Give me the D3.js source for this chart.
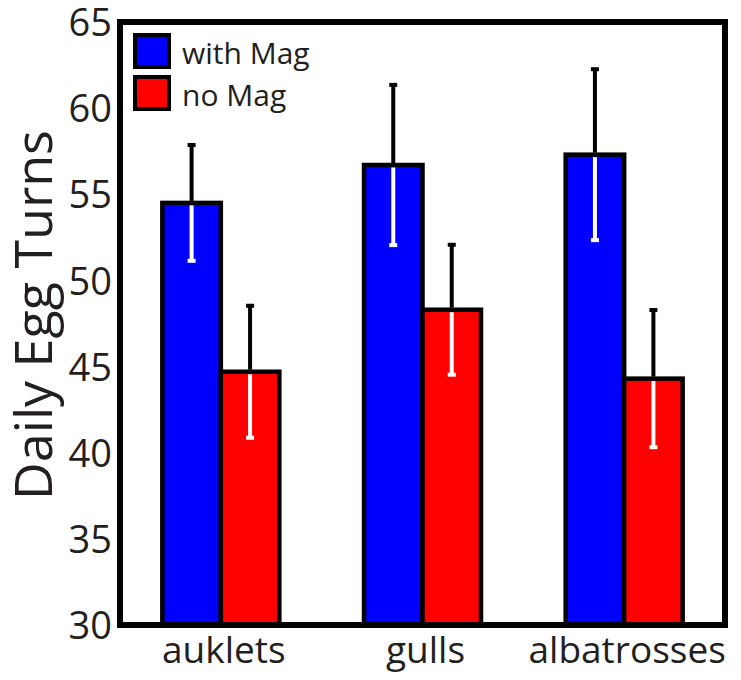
<!DOCTYPE html>
<html>
<head>
<meta charset="utf-8">
<script src="https://cdn.jsdelivr.net/npm/d3@7"></script>
<style>
  body { margin: 0; background: #fff; }
  svg text { font-family: "Open Sans", "Noto Sans", sans-serif; fill: #231f20; }
</style>
</head>
<body>
<svg id="chart"></svg>
<script>
// data
let species = ["auklets", "gulls", "albatrosses"];
let groups = ["with Mag", "no Mag"];
let withMag = [54.5, 56.7, 57.3];
let withMagSE = [3.36, 4.65, 4.96];
let noMag = [44.7, 48.3, 44.3];
let noMagSE = [3.83, 3.77, 3.98];
let yTicks = [30, 35, 40, 45, 50, 55, 60, 65];
let colors = ["#0000ff", "#ff0000"];

let width = 741;
let height = 680;
let padL = 120, padR = 725, padT = 22, padB = 625;

let svg = d3.select("#chart").attr("width", width).attr("height", height);

let rows = [];
species.forEach((s, i) => {
  rows.push({ sp: s, grp: groups[0], v: withMag[i], se: withMagSE[i] });
  rows.push({ sp: s, grp: groups[1], v: noMag[i], se: noMagSE[i] });
});

let xScale = d3.scaleBand().domain(species).range([padL, padR])
  .paddingInner(0.42).paddingOuter(0.21);
let xInner = d3.scaleBand().domain(groups).range([0, xScale.bandwidth()]);
let yScale = d3.scaleLinear().domain([30, 65]).range([padB, padT]);
let color = d3.scaleOrdinal().domain(groups).range(colors);

// bars
svg.append("g").selectAll("rect")
  .data(rows)
  .enter()
  .append("rect")
  .attr("x", d => xScale(d.sp) + xInner(d.grp))
  .attr("y", d => yScale(d.v))
  .attr("width", xInner.bandwidth())
  .attr("height", d => yScale(30) - yScale(d.v))
  .attr("fill", d => color(d.grp))
  .attr("stroke", "#000")
  .attr("stroke-width", 4.5);

// error bars: black above the bar top, white inside the bar
let err = svg.append("g");
rows.forEach(d => {
  let cx = xScale(d.sp) + xInner(d.grp) + xInner.bandwidth() / 2;
  let yt = yScale(d.v);
  let hi = yScale(d.v + d.se);
  let lo = yScale(d.v - d.se);
  err.append("line").attr("x1", cx).attr("x2", cx).attr("y1", yt - 2).attr("y2", hi)
    .attr("stroke", "#000").attr("stroke-width", 4);
  err.append("rect").attr("x", cx - 4).attr("y", hi - 2).attr("width", 8).attr("height", 4)
    .attr("fill", "#000");
  err.append("line").attr("x1", cx).attr("x2", cx).attr("y1", yt + 2.5).attr("y2", lo)
    .attr("stroke", "#fff").attr("stroke-width", 4);
  err.append("rect").attr("x", cx - 4).attr("y", lo - 2).attr("width", 8).attr("height", 4)
    .attr("fill", "#fff");
});

// frame
svg.append("rect")
  .attr("x", padL).attr("y", padT)
  .attr("width", padR - padL).attr("height", padB - padT)
  .attr("fill", "none").attr("stroke", "#000").attr("stroke-width", 6);

// y axis labels
let yAxis = d3.axisLeft(yScale).tickValues(yTicks).tickSize(0).tickPadding(5);
let yg = svg.append("g").attr("transform", "translate(" + (padL - 3) + ",0)").call(yAxis);
yg.select(".domain").remove();
yg.selectAll("text").style("font-size", "38px").attr("fill", "#231f20").attr("dy", "0.36em");

// x axis labels
let xAxis = d3.axisBottom(xScale).tickSize(0).tickPadding(9);
let xg = svg.append("g").attr("transform", "translate(3," + (padB + 3) + ")").call(xAxis);
xg.select(".domain").remove();
xg.selectAll("text").style("font-size", "37px").attr("fill", "#231f20");

// y title
svg.append("text")
  .attr("transform", "translate(52,315) rotate(-90)")
  .attr("text-anchor", "middle")
  .style("font-size", "52px")
  .text("Daily Egg Turns");

// legend
let legend = svg.append("g").attr("transform", "translate(135,35)");
groups.forEach((g, i) => {
  legend.append("rect")
    .attr("x", 0).attr("y", i * 42)
    .attr("width", 34).attr("height", 32)
    .attr("fill", color(g)).attr("stroke", "#000").attr("stroke-width", 4);
  legend.append("text")
    .attr("x", 47).attr("y", i * 42 + 29)
    .style("font-size", "30px")
    .text(g);
});
</script>
</body>
</html>
